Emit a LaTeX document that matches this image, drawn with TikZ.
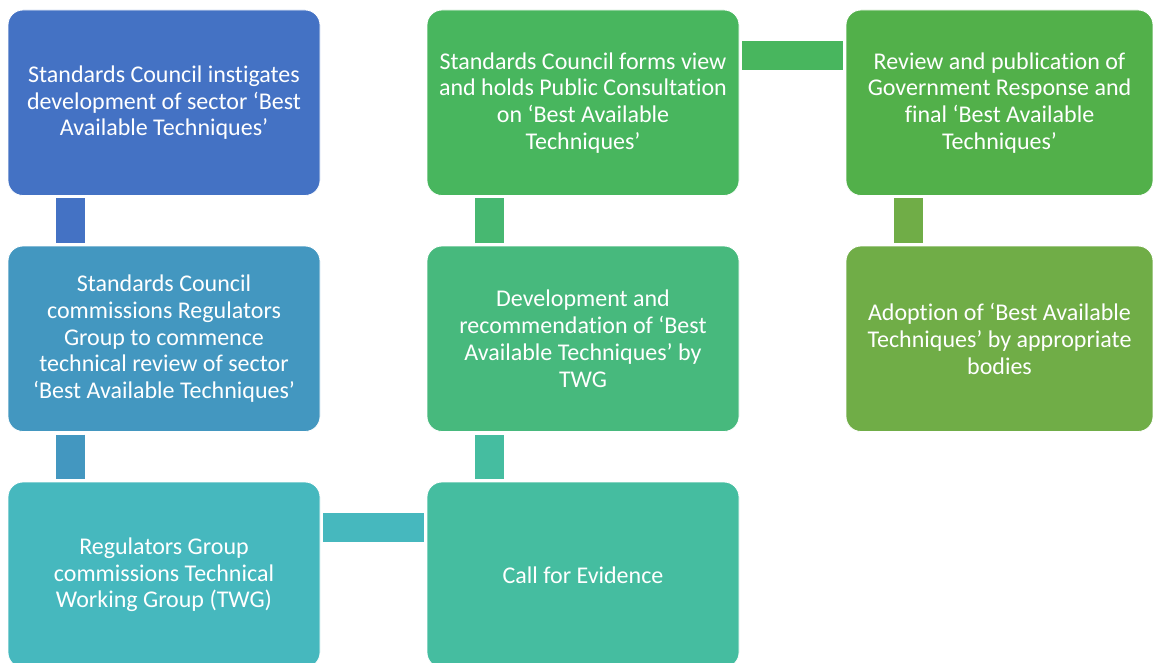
\documentclass[tikz,border=0pt]{standalone}
\usepackage{fontspec}
\setmainfont{Carlito}[Ligatures=NoCommon]
\usepackage{tikz}
\usetikzlibrary{positioning}

\definecolor{stepA}{RGB}{68,114,196}
\definecolor{stepB}{RGB}{67,151,192}
\definecolor{stepC}{RGB}{70,184,190}
\definecolor{stepD}{RGB}{69,189,160}
\definecolor{stepE}{RGB}{71,185,125}
\definecolor{stepF}{RGB}{72,182,94}
\definecolor{stepG}{RGB}{82,176,74}
\definecolor{stepH}{RGB}{112,173,71}

\begin{document}
\begin{tikzpicture}[
  x=1pt, y=-1pt,
  node distance=50.5pt and 107pt,
  stage/.style={draw=white, line width=0.8pt, rectangle, rounded corners=15pt, align=center, text=white, minimum width=312pt, minimum height=185.5pt, inner sep=0pt, outer sep=0pt, font=\fontsize{24}{26.7}\selectfont},
  link/.style={line width=29pt}
]
\useasboundingbox (0,0) rectangle (1153,663);
\node[stage, fill=stepA, anchor=north west] (inst) at (8,10) {Standards Council instigates\\development of sector ‘Best\\Available Techniques’};
\node[stage, fill=stepB, below=of inst] (comm) {Standards Council\\commissions Regulators\\Group to commence\\technical review of sector\\‘Best Available Techniques’};
\node[stage, fill=stepC, below=of comm] (twg) {Regulators Group\\commissions Technical\\Working Group (TWG)};
\node[stage, fill=stepD, right=of twg] (call) {Call for Evidence};
\node[stage, fill=stepE, above=of call] (devt) {Development and\\recommendation of ‘Best\\Available Techniques’ by\\TWG};
\node[stage, fill=stepF, above=of devt] (cons) {Standards Council forms view\\and holds Public Consultation\\on ‘Best Available\\Techniques’};
\node[stage, fill=stepG, right=of cons, minimum width=307pt] (resp) {Review and publication of\\Government Response and\\final ‘Best Available\\Techniques’};
\node[stage, fill=stepH, below=of resp, minimum width=307pt] (adopt) {Adoption of ‘Best Available\\Techniques’ by appropriate\\bodies};
% bars between the stages
\draw[link, stepA] ([xshift=62.5pt, yshift=-3pt]inst.south west) -- ([xshift=62.5pt, yshift=3pt]comm.north west);
\draw[link, stepB] ([xshift=62.5pt, yshift=-3pt]comm.south west) -- ([xshift=62.5pt, yshift=3pt]twg.north west);
\draw[link, stepC] ([xshift=3pt, yshift=-45.5pt]twg.north east) -- ([xshift=-3pt, yshift=-45.5pt]call.north west);
\draw[link, stepD] ([xshift=62.5pt, yshift=3pt]call.north west) -- ([xshift=62.5pt, yshift=-3pt]devt.south west);
\draw[link, stepE!60!stepF] ([xshift=62.5pt, yshift=3pt]devt.north west) -- ([xshift=62.5pt, yshift=-3pt]cons.south west);
\draw[link, stepF] ([xshift=3pt, yshift=-45.5pt]cons.north east) -- ([xshift=-3pt, yshift=-45.5pt]resp.north west);
\draw[link, stepH] ([xshift=62.5pt, yshift=-3pt]resp.south west) -- ([xshift=62.5pt, yshift=3pt]adopt.north west);
\end{tikzpicture}
\end{document}
